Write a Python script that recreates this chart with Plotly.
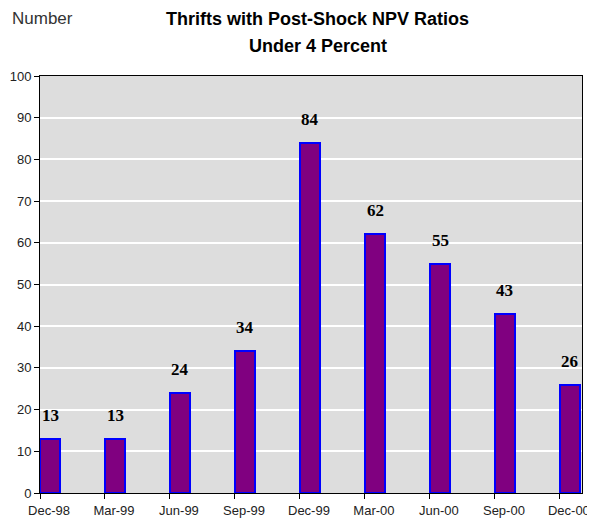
import plotly.graph_objects as go

categories = ["Dec-98", "Mar-99", "Jun-99", "Sep-99", "Dec-99", "Mar-00", "Jun-00", "Sep-00", "Dec-00"]
values = [13, 13, 24, 34, 84, 62, 55, 43, 26]
y_ticks = [0, 10, 20, 30, 40, 50, 60, 70, 80, 90, 100]
title_lines = ["Thrifts with Post-Shock NPV Ratios", "Under 4 Percent"]

positions = list(range(len(categories)))
bar_w = 0.31
# page coordinates (the page body adds an 8px offset)
OFF = 8
W, H = 595, 526
PLOT_TOP, PLOT_BOTTOM, PLOT_LEFT, PLOT_RIGHT = 75.5, 493, 40, 582.5
plot_h = PLOT_BOTTOM - PLOT_TOP
plot_w = PLOT_RIGHT - PLOT_LEFT

fig = go.Figure()
fig.add_trace(go.Bar(
    x=positions, y=values, width=bar_w, offset=0,
    marker=dict(color="#800080", line=dict(color="#0000FF", width=2)),
    hoverinfo="skip",
))

for p, v in zip(positions, values):
    fig.add_annotation(
        x=p + bar_w / 2, y=v, text=f"<b>{v}</b>", showarrow=False,
        yanchor="bottom", yshift=12,
        font=dict(family="Times New Roman, Liberation Serif, serif", size=17, color="black"),
    )

fig.add_annotation(
    xref="paper", yref="paper", x=(10 - PLOT_LEFT) / plot_w, y=1 + (PLOT_TOP - 18) / plot_h,
    xanchor="left", yanchor="middle",
    text="Number", showarrow=False,
    font=dict(family="Arial, Liberation Sans, sans-serif", size=17, color="#333333"),
)

for line, ypix in zip(title_lines, [18, 45]):
    fig.add_annotation(
        xref="paper", yref="paper", x=(318 - PLOT_LEFT) / plot_w, y=1 + (PLOT_TOP - ypix) / plot_h,
        xanchor="center", yanchor="middle",
        text=f"<b>{line}</b>", showarrow=False,
        font=dict(family="Arial, Liberation Sans, sans-serif", size=18, color="black"),
    )

fig.update_layout(
    width=W - OFF, height=H - OFF,
    margin=dict(l=PLOT_LEFT - OFF, r=W - PLOT_RIGHT, t=PLOT_TOP - OFF, b=H - PLOT_BOTTOM, autoexpand=False),
    paper_bgcolor="white", plot_bgcolor="#DDDDDD",
    showlegend=False,
    bargap=0,
)

fig.update_xaxes(
    range=[0, 8.34], tickvals=positions, ticktext=categories,
    ticks="outside", ticklen=5, tickcolor="black", tickwidth=1,
    ticklabelshift=9, automargin=False,
    showline=True, linecolor="black", linewidth=1, mirror=True,
    showgrid=False, zeroline=False,
    tickfont=dict(family="Arial, Liberation Sans, sans-serif", size=13, color="#222222"),
)
fig.update_yaxes(
    range=[0, 100], tickvals=y_ticks, automargin=False,
    ticks="outside", ticklen=5, tickcolor="black", tickwidth=1,
    showline=True, linecolor="black", linewidth=1, mirror=True,
    showgrid=True, gridcolor="white", gridwidth=2, zeroline=False,
    tickfont=dict(family="Arial, Liberation Sans, sans-serif", size=13, color="#222222"),
)

fig.write_html("out.html")
